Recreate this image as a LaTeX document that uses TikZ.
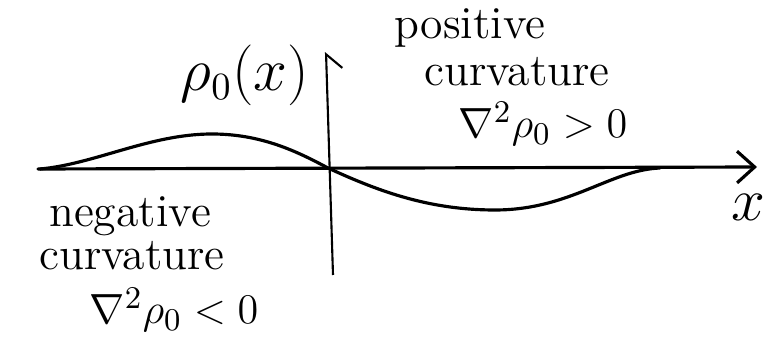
\documentclass[tikz,border=0pt]{standalone}
\usepackage{fontspec}
\usetikzlibrary{arrows.meta}
\tikzset{
  axis/.style={line width=0.9pt, line cap=round},
  curve/.style={line width=0.9pt, line cap=round},
  lbl/.style={font=\fontsize{13}{15}\selectfont, inner sep=0pt},
  biglbl/.style={lbl, font=\fontsize{16}{18}\selectfont},
  wordlbl/.style={lbl, font=\fontsize{13}{15}\selectfont\addfontfeatures{LetterSpace=28}}
}
\begin{document}
\begin{tikzpicture}[x=0.01cm, y=-0.01cm]
    \useasboundingbox (0,0) rectangle (772,337);

    % Ejes
    \coordinate (xstart) at (38,169);
    \coordinate (xend) at (757,167);
    \coordinate (ybot) at (333,275);
    \coordinate (ytop) at (326,52);
    \draw[axis, -{Straight Barb[length=5pt, width=9pt]}] (xstart) -- (xend);
    \draw[line width=0.6pt, -{Straight Barb[right, length=4pt, width=9pt]}] (ybot) -- (ytop);

    % Perfil de densidad
    \coordinate (left) at (40,169);
    \coordinate (peak) at (212,134);
    \coordinate (origin) at (328,168);
    \coordinate (trough) at (495,210);
    \coordinate (right) at (660,168);
    \draw[curve] (left) .. controls (95,164) and (150,134) .. (peak)
        .. controls (262,134) and (298,152) .. (origin)
        .. controls (380,192) and (430,210) .. (trough)
        .. controls (570,210) and (610,170) .. (right);

    % Etiquetas
    \node[biglbl] (rholbl) at (245,75) {$\rho_0(x)$};
    \node[biglbl] (xlbl) at (748,207) {$x$};
    \node[wordlbl] (pos) at (470,28) {positive};
    \node[wordlbl] (poscurv) at (517,72) {curvature};
    \node[lbl] (poslap) at (543,124) {$\nabla^2\rho_0>0$};
    \node[wordlbl] (neg) at (130,216) {negative};
    \node[wordlbl] (negcurv) at (132,256) {curvature};
    \node[lbl] (neglap) at (174,310) {$\nabla^2\rho_0<0$};

\end{tikzpicture}
\end{document}
